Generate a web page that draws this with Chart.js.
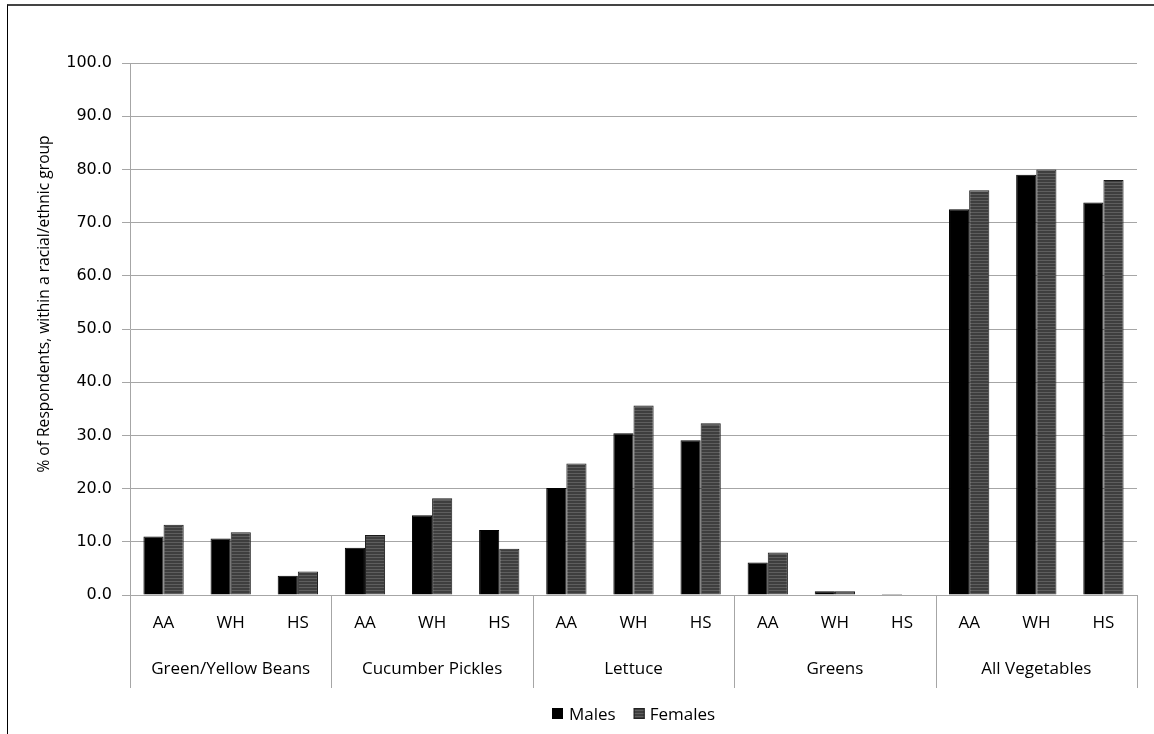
<!DOCTYPE html>
<html>
<head>
<meta charset="utf-8">
<script src="https://cdn.jsdelivr.net/npm/chart.js@4.4.1/dist/chart.umd.min.js"></script>
<style>
  html, body { margin: 0; padding: 0; background: #fff; }
  #wrap { position: relative; width: 1154px; height: 734px; overflow: hidden; }
  #frame { position: absolute; left: 7px; top: 4px; width: 1200px; height: 800px;
           border-left: 1px solid #000; border-top: 2px solid #444; }
  canvas { position: absolute; left: 0; top: 0; }
</style>
</head>
<body>
<div id="wrap">
  <div id="frame"></div>
  <canvas id="chart" width="1154" height="734"></canvas>
</div>
<script>
// ——— data ———
var groups = ["Green/Yellow Beans", "Cucumber Pickles", "Lettuce", "Greens", "All Vegetables"];
var subgroups = ["AA", "WH", "HS"];
var males   = [11.0, 10.6, 3.6,   8.9, 15.0, 12.2,   20.1, 30.4, 29.1,   6.1, 0.7, 0.2,   72.5, 79.0, 73.8];
var females = [13.2, 11.8, 4.4,  11.3, 18.2,  8.7,   24.7, 35.6, 32.3,   8.0, 0.7, 0.0,   76.1, 80.0, 78.0];
var yTicks  = [0, 10, 20, 30, 40, 50, 60, 70, 80, 90, 100];
var yTitle  = "% of Respondents, within a racial/ethnic group";
var seriesNames = ["Males", "Females"];

var labels = [];
groups.forEach(function () { subgroups.forEach(function (s) { labels.push(s); }); });

// striped dark grey fill used for the Females bars
function stripePattern(ctx) {
  var c = document.createElement("canvas");
  c.width = 4; c.height = 3;
  var p = c.getContext("2d");
  p.fillStyle = "#3e3e3e"; p.fillRect(0, 0, 4, 3);
  p.fillStyle = "#5e5e5e"; p.fillRect(0, 2, 4, 1);
  return ctx.createPattern(c, "repeat");
}

var canvas = document.getElementById("chart");
var ctx = canvas.getContext("2d");
var femaleFill = stripePattern(ctx);

var LABEL_FONT = "17px 'Open Sans', 'Noto Sans', sans-serif";

// ——— category axis, group labels, separators, y title, legend ———
var decorPlugin = {
  id: "decor",
  afterDraw: function (chart) {
    var c = chart.ctx;
    var xs = chart.scales.x;
    var area = chart.chartArea;
    var step = xs.getPixelForValue(1) - xs.getPixelForValue(0);
    c.save();
    c.fillStyle = "#000";
    c.font = LABEL_FONT;
    c.textAlign = "center";
    c.textBaseline = "alphabetic";
    labels.forEach(function (l, i) {
      c.fillText(l, xs.getPixelForValue(i), 628);
    });
    // group separators and names
    c.strokeStyle = "#a6a6a6";
    c.lineWidth = 1;
    for (var g = 0; g <= groups.length; g++) {
      var bx = Math.round(xs.getPixelForValue(g * subgroups.length) - step / 2) + 0.5;
      c.beginPath();
      c.moveTo(bx, area.bottom);
      c.lineTo(bx, 688);
      c.stroke();
      if (g < groups.length) {
        var cx = xs.getPixelForValue(g * subgroups.length + 1);
        c.fillText(groups[g], cx, 674);
      }
    }
    // y title
    c.save();
    c.translate(45, 304);
    c.rotate(-Math.PI / 2);
    c.textBaseline = "middle";
    c.font = "15.6px 'Open Sans', 'Noto Sans', sans-serif";
    c.fillText(yTitle, 0, 0);
    c.restore();
    // legend
    c.textAlign = "left";
    var lx = 552, ly = 720;
    c.fillStyle = "#000";
    c.fillRect(lx, ly - 12, 11, 11);
    c.fillText(seriesNames[0], lx + 17, ly);
    var fx = lx + 17 + c.measureText(seriesNames[0]).width + 18;
    c.fillStyle = femaleFill;
    c.fillRect(fx, ly - 12, 11, 11);
    c.strokeStyle = "#222";
    c.strokeRect(fx + 0.5, ly - 11.5, 10, 10);
    c.fillStyle = "#000";
    c.fillText(seriesNames[1], fx + 16, ly);
    c.restore();
  }
};

new Chart(canvas, {
  type: "bar",
  data: {
    labels: labels,
    datasets: [{
      label: seriesNames[0],
      data: males,
      backgroundColor: "#000",
      borderColor: "#000",
      borderWidth: 1,
      categoryPercentage: 0.6,
      barPercentage: 1
    }, {
      label: seriesNames[1],
      data: females,
      backgroundColor: femaleFill,
      borderColor: "#1a1a1a",
      borderWidth: 1,
      categoryPercentage: 0.6,
      barPercentage: 1
    }]
  },
  options: {
    responsive: false,
    animation: false,
    layout: { padding: { top: 63, right: 17, bottom: 131, left: 0 } },
    plugins: { legend: { display: false }, tooltip: { enabled: false } },
    scales: {
      x: {
        grid: { display: false },
        border: { display: false },
        ticks: { display: false }
      },
      y: {
        min: 0,
        max: 100,
        afterBuildTicks: function (axis) {
          axis.ticks = yTicks.map(function (v) { return { value: v }; });
        },
        afterFit: function (axis) { axis.width = 130; },
        grid: { color: "#a6a6a6", lineWidth: 1, tickLength: 8 },
        border: { color: "#a6a6a6" },
        ticks: {
          color: "#000",
          padding: 10,
          font: { family: "'DejaVu Sans', Verdana, sans-serif", size: 16 },
          callback: function (v) { return v.toFixed(1); }
        }
      }
    }
  },
  plugins: [decorPlugin]
});
</script>
</body>
</html>
